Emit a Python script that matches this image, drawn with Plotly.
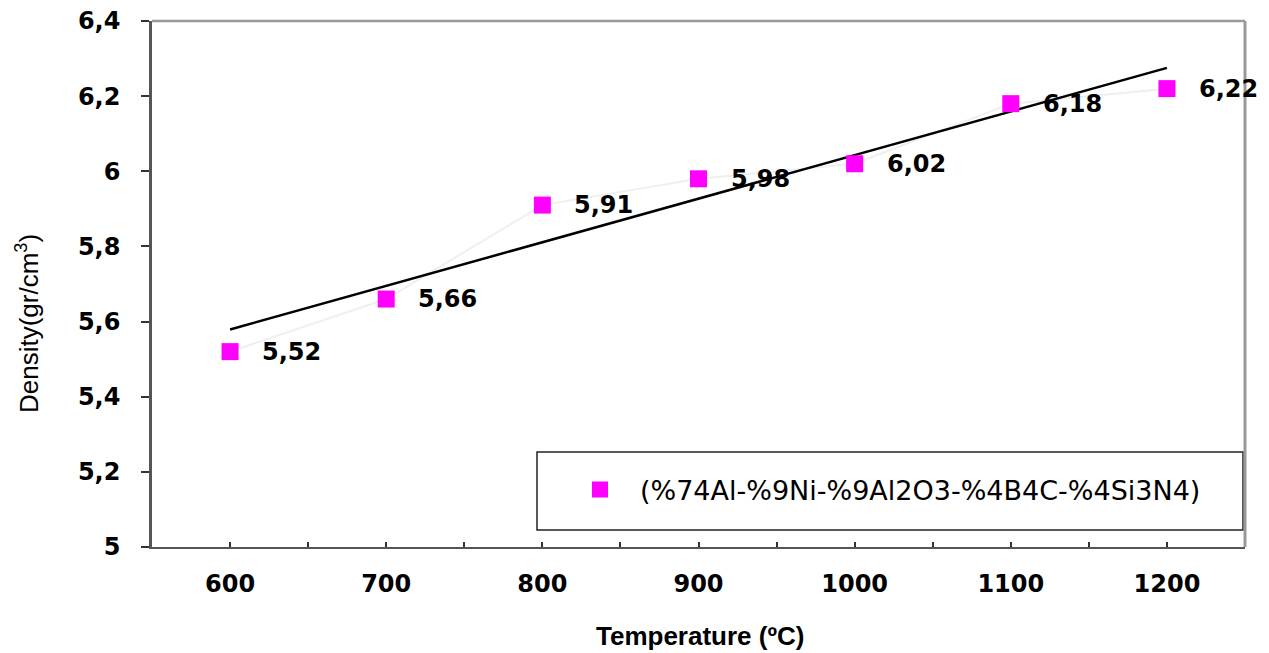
import numpy as np
import plotly.graph_objects as go

# ---- data ----
temperature = [600, 700, 800, 900, 1000, 1100, 1200]
density = [5.52, 5.66, 5.91, 5.98, 6.02, 6.18, 6.22]
series_name = "(%74Al-%9Ni-%9Al2O3-%4B4C-%4Si3N4)"
x_title = "Temperature (ºC)"
y_title = "Density(gr/cm<sup>3</sup>)"
labels = [f"{v:.2f}".replace(".", ",") for v in density]

# linear trendline fitted to the data
slope, intercept = np.polyfit(temperature, density, 1)
trend_x = [temperature[0], temperature[-1]]
trend_y = [slope * t + intercept for t in trend_x]

W, H = 1269, 653
OFF = 8  # page body margin offset
# plot area in screen pixels: x 152..1245, y 21..547
L, R, T, B = 152 - OFF, W - (1245 - OFF), 21 - OFF, H - (547 - OFF)
pw, ph = W - L - R, H - T - B


def px(xs):
    return (xs - OFF - L) / pw


def py(ys):
    return (H - B - (ys - OFF)) / ph


fig = go.Figure()

# faint connecting line
fig.add_trace(go.Scatter(x=temperature, y=density, mode="lines",
                         line=dict(color="#efefef", width=2),
                         showlegend=False, hoverinfo="skip"))
# trendline
fig.add_trace(go.Scatter(x=trend_x, y=trend_y, mode="lines",
                         line=dict(color="black", width=2.5),
                         showlegend=False, hoverinfo="skip"))
# data points
fig.add_trace(go.Scatter(x=temperature, y=density, mode="markers",
                         marker=dict(symbol="square", size=17, color="#ff00ff"),
                         name=series_name))

for t, d, lab in zip(temperature, density, labels):
    fig.add_annotation(x=t, y=d, xref="x", yref="y", text=lab, showarrow=False,
                       xanchor="left", yanchor="middle", xshift=30,
                       font=dict(family="DejaVu Sans", size=24, color="black", weight="bold"))

# y axis title
fig.add_annotation(x=px(27), y=py(324), xref="paper", yref="paper", text=y_title,
                   textangle=-90, showarrow=False, xanchor="center", yanchor="middle",
                   font=dict(family="Liberation Sans Narrow, Arial Narrow, Liberation Sans",
                             size=26, color="black"))
# x axis title
fig.add_annotation(x=px(700), y=py(636), xref="paper", yref="paper", text=x_title,
                   showarrow=False, xanchor="center", yanchor="middle",
                   font=dict(family="Liberation Sans, Arial", size=26, color="black", weight="bold"))

# legend box
fig.add_shape(type="rect", xref="paper", yref="paper",
              x0=px(537), x1=px(1243), y0=py(530), y1=py(452),
              line=dict(color="#222222", width=1.5), fillcolor="white", layer="below")
# top / right frame
fig.add_shape(type="line", xref="paper", yref="paper", x0=0, x1=1, y0=1, y1=1,
              line=dict(color="#999999", width=2.5))
fig.add_shape(type="line", xref="paper", yref="paper", x0=1, x1=1, y0=0, y1=1,
              line=dict(color="#999999", width=3))

fig.update_layout(
    width=W, height=H,
    margin=dict(l=L, r=R, t=T, b=B, autoexpand=False),
    paper_bgcolor="white", plot_bgcolor="white",
    separators=",.",
    showlegend=True,
    legend=dict(x=px(560), y=py(490), xanchor="left", yanchor="middle",
                bgcolor="rgba(0,0,0,0)", borderwidth=0, itemwidth=70,
                font=dict(family="DejaVu Sans", size=27, color="black")),
    xaxis=dict(range=[550, 1250], tickmode="linear", tick0=600, dtick=100,
               ticks="inside", ticklen=5, tickwidth=1.5, tickcolor="#333",
               minor=dict(dtick=50, tick0=550, ticks="inside", ticklen=5, tickwidth=1.5, tickcolor="#333"),
               showline=True, linecolor="#555555", linewidth=2, showgrid=False, zeroline=False,
               ticklabelstandoff=14, automargin=False, ticklabeloverflow="allow",
               tickfont=dict(family="DejaVu Sans", size=24, color="black", weight="bold")),
    yaxis=dict(range=[5, 6.4], tickmode="linear", tick0=5, dtick=0.2,
               ticks="outside", ticklen=8, tickwidth=1.5, tickcolor="#333",
               showline=True, linecolor="#555555", linewidth=2.5, showgrid=False, zeroline=False,
               ticklabelstandoff=16, automargin=False, ticklabeloverflow="allow",
               tickfont=dict(family="DejaVu Sans", size=24, color="black", weight="bold")),
)

fig.write_html("out.html")
